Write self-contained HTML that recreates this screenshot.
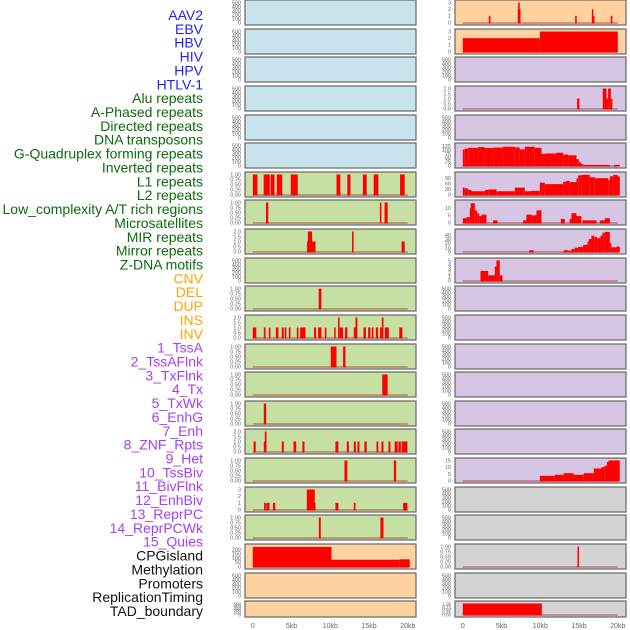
<!DOCTYPE html>
<html><head><meta charset="utf-8"><style>
html,body{margin:0;padding:0;background:#fff;}
svg{display:block;font-family:"Liberation Sans",sans-serif;}
</style></head><body>
<svg id="chart" width="630" height="630" viewBox="0 0 630 630" xmlns="http://www.w3.org/2000/svg"></svg>
<script>
// ---- track labels ----
const labelNames = ["AAV2","EBV","HBV","HIV","HPV","HTLV-1","Alu repeats","A-Phased repeats","Directed repeats","DNA transposons","G-Quadruplex forming repeats","Inverted repeats","L1 repeats","L2 repeats","Low_complexity A/T rich regions","Microsatellites","MIR repeats","Mirror repeats","Z-DNA motifs","CNV","DEL","DUP","INS","INV","1_TssA","2_TssAFlnk","3_TxFlnk","4_Tx","5_TxWk","6_EnhG","7_Enh","8_ZNF_Rpts","9_Het","10_TssBiv","11_BivFlnk","12_EnhBiv","13_ReprPC","14_ReprPCWk","15_Quies","CPGisland","Methylation","Promoters","ReplicationTiming","TAD_boundary"];
const labelGroups = ["v","v","v","v","v","v","r","r","r","r","r","r","r","r","r","r","r","r","r","s","s","s","s","s","c","c","c","c","c","c","c","c","c","c","c","c","c","c","c","o","o","o","o","o"];
const xTicks = [0,5,10,15,20];
const xTickLabels = ["0","5kb","10kb","15kb","20kb"];

// ---- tick label sets ----
const t500 = ["0","100","200","300","400","500"];
const t1 = ["0.00","0.25","0.50","0.75","1.00"];
const t2 = ["0.0","0.5","1.0","1.5","2.0"];
const t3 = ["0","1","2","3"];

// ---- column 1 series: [startKb, endKb, value] ----
const l1Left = [[0,0.6,1],[1.4,2.2,1],[2.3,2.8,1],[3.1,3.8,1],[4.9,5.8,1],[10.8,11.3,1],[12.2,12.6,1],[14.2,14.7,1],[15.6,16.2,1],[19.0,19.6,1]];
const l2Left = [[1.7,2.0,1],[16.4,16.6,1],[17.0,17.4,1]];
const lowLeft = [[7.0,8.1,1],[7.1,7.65,2],[12.8,13.0,2],[19.2,19.6,1]];
const mirLeft = [[8.5,8.85,1]];
const zdnaLeft = [[0.0,0.45,1],[1.42,1.64,1],[2.07,2.28,1],[2.97,3.31,1],[3.74,4.0,1],[4.13,4.34,1],[4.65,4.86,1],[5.68,5.89,1],[6.1,6.8,1],[7.9,8.17,1],[8.43,8.86,1],[9.29,9.5,1],[10.5,10.66,1],[11.0,11.2,2],[11.2,11.65,1],[11.9,12.2,1],[13.03,13.25,1],[13.25,13.5,2],[14.28,14.6,1],[14.88,15.18,1],[15.35,15.57,1],[15.87,16.17,1],[16.4,16.65,1],[16.65,16.86,2],[17.03,17.55,1],[18.9,19.3,1]];
const delLeft = [[10.06,10.8,1],[11.65,11.96,1]];
const dupLeft = [[16.7,17.4,1]];
const insLeft = [[1.42,1.72,1]];
const invLeft = [[0.1,0.38,1],[1.42,1.64,1],[1.55,1.77,2],[3.74,4.0,1],[5.25,5.6,1],[6.4,6.67,1],[10.66,11.05,1],[12.13,12.4,1],[13.03,13.3,1],[13.5,13.76,1],[14.4,14.7,1],[15.96,16.2,1],[16.6,16.86,1],[17.5,17.76,1],[18.3,18.7,1],[18.8,19.1,1],[19.2,19.95,1]];
const tssaLeft = [[11.83,12.2,1],[18.2,18.5,1]];
const tssaflnkLeft = [[1.46,1.72,1],[1.77,2.15,1],[2.6,2.9,1],[6.97,8.0,3],[7.8,8.1,1],[10.66,11.05,1],[13.03,13.25,1],[19.4,19.95,1]];
const txflnkLeft = [[8.52,8.77,1],[16.47,16.86,1]];
const cpgLeft = [[0,10.15,230],[10.15,18.9,79],[18.9,20.25,84]];

// ---- column 2 series ----
const aavRight = [[3.35,3.57,1],[7.1,7.45,2],[7.14,7.35,3],[14.5,14.7,1],[16.65,16.8,2],[16.8,16.95,1],[19.1,19.3,1]];
const ebvRight = [[0,9.94,2],[9.94,20.0,3]];
const hivRight = [[14.75,15.05,1],[18.06,18.54,2],[18.54,18.75,1],[18.75,19.1,2],[19.1,19.3,1]];
const gquadRight = [[0,0.26,102],[0.26,0.69,108],[0.69,1.33,113],[1.33,1.98,112],[1.98,2.84,118],[2.84,3.91,112],[3.91,5.2,115],[5.2,6.71,120],[6.71,7.35,116],[7.35,8.0,103],[8.0,9.29,120],[9.29,10.15,113],[10.15,10.66,75],[10.66,12.08,77],[12.08,12.95,82],[12.95,13.59,70],[13.59,14.67,65],[14.67,14.97,40],[14.97,15.3,20],[15.3,15.52,10],[15.52,18.97,4],[19.5,20.26,4]];
const invRight = [[0,0.26,38],[0.26,0.69,33],[0.69,1.12,25],[1.12,2.84,18],[2.84,3.27,25],[3.27,4.34,28],[4.34,6.71,18],[6.71,8.0,38],[8.0,8.86,18],[8.86,9.94,20],[9.94,10.58,65],[10.58,12.95,57],[12.95,13.38,70],[13.38,13.8,75],[13.8,14.67,68],[14.67,14.88,88],[14.88,15.3,105],[15.3,16.39,108],[16.39,17.03,95],[17.03,18.75,90],[18.75,18.97,80],[18.97,19.4,100],[19.4,19.96,108],[19.96,20.26,100]];
const l1Right = [[0,0.47,3],[0.47,0.9,3.7],[0.9,1.03,10],[1.03,1.55,13.5],[1.55,1.85,8.5],[1.85,2.11,6.5],[2.11,2.41,4.5],[2.41,3.05,5.5],[3.91,4.47,1.5],[7.78,8.21,1.5],[8.21,8.86,5.5],[8.86,9.5,5],[9.5,10.15,8.5],[12.65,13.16,2.5],[13.8,14.02,2.5],[14.02,14.67,6.5],[14.67,15.3,4.5],[15.44,17.25,1.5],[17.68,18.32,1.5],[18.32,18.97,3]];
const l2Right = [[8.56,9.16,3],[13.03,13.59,3],[13.59,14.02,2],[14.02,14.45,6],[14.45,14.88,9],[14.88,15.52,11],[15.52,16.09,16],[16.09,16.26,24],[16.26,16.6,30],[16.6,16.95,38],[16.95,17.33,35],[17.33,17.76,32],[17.76,18.02,38],[18.02,18.32,45],[18.32,18.97,47],[18.97,19.18,20],[19.18,19.83,10],[19.83,20.26,12]];
const lowRight = [[2.28,3.27,2.4],[3.27,4.13,1.3],[4.13,4.34,3.5],[4.34,4.77,5],[4.77,5.12,1.3]];
const hetRight = [[9.94,11.87,3.5],[11.87,13.03,4.3],[13.03,14.32,5.5],[14.32,15.6,4.3],[15.6,16.9,5.5],[16.9,17.9,9],[17.9,18.3,10],[18.3,18.6,11],[18.6,18.8,14],[18.8,20.25,15]];
const promRight = [[14.8,15.0,1]];
const tadRight = [[0,10.2,1]];

const BLUE="#c8e3eb", GREEN="#c6e0a4", ORANGE="#ffd29f", PURPLE="#d6c6e3", GREY="#d3d3d3";
const rowTops = [0,29,57,86,115,143,172,200,229,258,286,315,344,372,401,429,458,487,515,544,573,601];
const colX = [245,455];
const PW = 171;

// panels: [col,row,bg,ymax,ticks,data]
const panels = [
 [0,0,BLUE,500,t500,null],[0,1,BLUE,500,t500,null],[0,2,BLUE,500,t500,null],[0,3,BLUE,500,t500,null],[0,4,BLUE,500,t500,null],[0,5,BLUE,500,t500,null],
 [0,6,GREEN,1,t1,l1Left],[0,7,GREEN,1,t1,l2Left],[0,8,GREEN,2,t2,lowLeft],[0,9,GREEN,500,t500,null],[0,10,GREEN,1,t1,mirLeft],[0,11,GREEN,2,t2,zdnaLeft],
 [0,12,GREEN,1,t1,delLeft],[0,13,GREEN,1,t1,dupLeft],[0,14,GREEN,1,t1,insLeft],[0,15,GREEN,2,t2,invLeft],[0,16,GREEN,1,t1,tssaLeft],[0,17,GREEN,3,t3,tssaflnkLeft],
 [0,18,GREEN,1,t1,txflnkLeft],[0,19,ORANGE,235,["0","50","100","150","200"],cpgLeft],[0,20,ORANGE,500,t500,null],[0,21,ORANGE,500,t500,null],
 [1,0,ORANGE,3,t3,aavRight],[1,1,ORANGE,3,t3,ebvRight],[1,2,PURPLE,500,t500,null],[1,3,PURPLE,2,t2,hivRight],[1,4,PURPLE,500,t500,null],
 [1,5,PURPLE,128,["0","25","50","75","100","125"],gquadRight],[1,6,PURPLE,110,["0","30","60","90"],invRight],[1,7,PURPLE,14,["0","5","10"],l1Right],
 [1,8,PURPLE,48,["0","10","20","30","40"],l2Right],[1,9,PURPLE,5,["0","1","2","3","4","5"],lowRight],
 [1,10,PURPLE,500,t500,null],[1,11,PURPLE,500,t500,null],[1,12,PURPLE,500,t500,null],[1,13,PURPLE,500,t500,null],[1,14,PURPLE,500,t500,null],[1,15,PURPLE,500,t500,null],
 [1,16,PURPLE,15,["0","5","10","15"],hetRight],[1,17,GREY,500,t500,null],[1,18,GREY,500,t500,null],[1,19,GREY,1,t1,promRight],[1,20,GREY,500,t500,null],[1,21,GREY,1,t1,tadRight]
];

const NS="http://www.w3.org/2000/svg";
const svg=document.getElementById('chart');
function mk(tag,attrs,parent){const e=document.createElementNS(NS,tag);for(const k in attrs)e.setAttribute(k,attrs[k]);(parent||svg).appendChild(e);return e;}
const groupColor={v:"#1f1fff",r:"#0c6b0c",s:"#ffa500",c:"#a83ef0",o:"#111111"};

// labels
labelNames.forEach((n,i)=>{
  const t=mk('text',{x:203,y:(20+i*13.86).toFixed(1),'text-anchor':'end','font-size':'14',fill:groupColor[labelGroups[i]]});
  
  
  t.textContent=n;
});

function xScale(col,kb){return colX[col]+7.8+kb*7.75;}

panels.forEach(p=>{
  const [col,row,bg,ymax,ticks,data]=p;
  const top=rowTops[row], h=(row===21?16:25);
  const x0=colX[col];
  const g=mk('g',{});
  
  
  const r=mk('rect',{x:x0,y:top,width:PW,height:h,fill:bg,stroke:'#666',"stroke-width":1.2},g);
  
  
  const y0=top+h-2.5, y1=top+2.5;
  const yScale=v=>y0-(v/ymax)*(y0-y1);
  ticks.forEach(tl=>{
    const t=mk('text',{x:x0-4,y:(yScale(parseFloat(tl))+2).toFixed(1),'text-anchor':'end','font-size':(row===21?'4.5':'5.5'),fill:'#666'},g);
    
    
    t.textContent=tl;
  });
  if(data){
    const bl=mk('line',{x1:xScale(col,0),x2:xScale(col,20),y1:y0+0.5,y2:y0+0.5,stroke:'#b04040','stroke-width':1.5,opacity:0.6},g);
    
    
    data.forEach(d=>{
      const xa=xScale(col,d[0]), xb=xScale(col,d[1]);
      const yt=Math.max(yScale(d[2]),top+0.6);
      const b=mk('rect',{x:xa.toFixed(2),y:yt.toFixed(2),width:Math.max(1.5,xb-xa).toFixed(2),height:(y0+1-yt).toFixed(2),fill:'#ff0000'},g);
      
      
    });
  }
});

// x axes
[0,1].forEach(col=>{
  xTicks.forEach((v,i)=>{
    const t=mk('text',{x:xScale(col,v),y:628,'text-anchor':'middle','font-size':'7',fill:'#666'});
    
    
    t.textContent=xTickLabels[i];
  });
});
</script>
</body></html>
